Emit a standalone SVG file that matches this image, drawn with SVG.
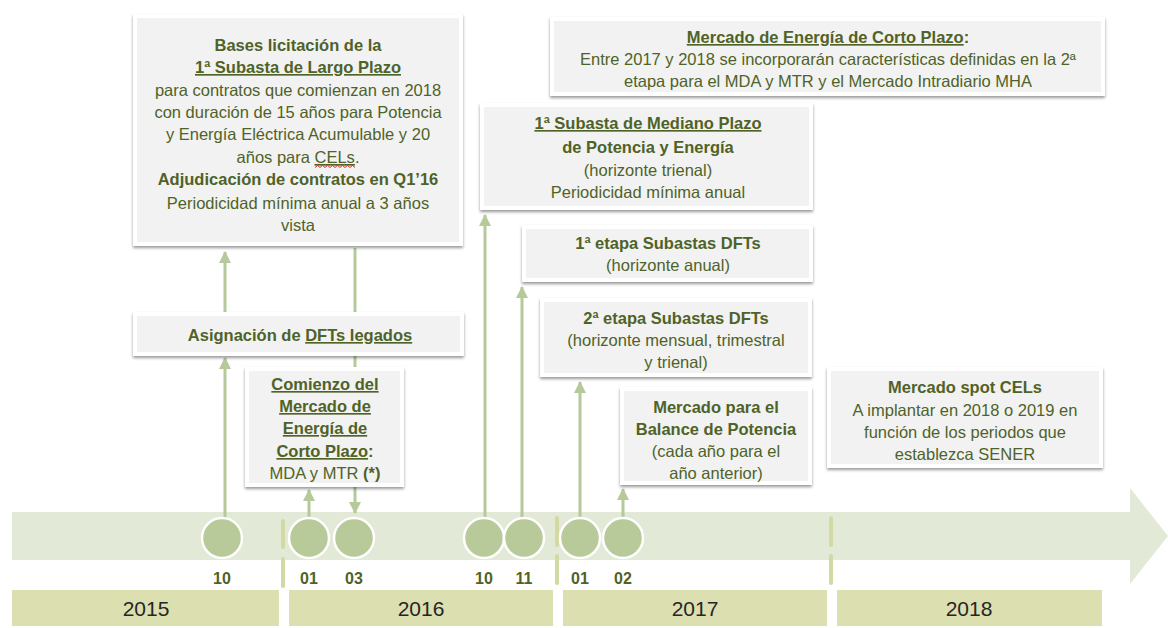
<svg xmlns="http://www.w3.org/2000/svg" width="1168" height="628" viewBox="0 0 1168 628">
<defs>
<filter id="sh" x="-5%" y="-10%" width="110%" height="130%">
<feDropShadow dx="0" dy="2" stdDeviation="1.4" flood-color="#000" flood-opacity="0.4"/>
</filter>
<marker id="ah" viewBox="0 0 12 12" refX="11" refY="6" markerWidth="12" markerHeight="12" markerUnits="userSpaceOnUse" orient="auto">
<path d="M0,0 L12,6 L0,12 Z" fill="#b5c99a"/>
</marker>
</defs>
<style>
.outer{fill:#ffffff;filter:url(#sh)}
.inner{fill:#f2f2f2}
text{font-family:"Liberation Sans",Arial,sans-serif;font-size:16.5px;fill:#4f6228;text-anchor:middle}
.b{font-weight:bold}
.u{text-decoration:underline}
.mo{font-weight:bold;font-size:16px}
.yr{font-size:21px;fill:#262626}
.con{stroke:#b5c99a;stroke-width:3;fill:none}
.sep{stroke:#d3d9a2;stroke-width:4;stroke-linecap:round}
.circ{fill:#b8c99a;stroke:#ffffff;stroke-width:2.5}
.year{fill:#dcdfb0}
</style>

<g id="timeline">
<path d="M12,512 H1130 V488 L1168,536 L1130,584 V560 H12 Z" fill="#e2e9d6"/>
<rect class="year" x="12" y="590" width="267" height="36"/>
<rect class="year" x="289" y="590" width="264" height="36"/>
<rect class="year" x="563" y="590" width="264" height="36"/>
<rect class="year" x="837" y="590" width="265" height="36"/>
<text class="yr" x="146" y="616">2015</text>
<text class="yr" x="421" y="616">2016</text>
<text class="yr" x="695" y="616">2017</text>
<text class="yr" x="969" y="616">2018</text>
<line class="sep" x1="283" y1="521" x2="283" y2="547"/>
<line class="sep" x1="283" y1="559" x2="283" y2="586"/>
<line class="sep" x1="557" y1="518" x2="557" y2="545"/>
<line class="sep" x1="557" y1="556" x2="557" y2="583"/>
<line class="sep" x1="831" y1="518" x2="831" y2="545"/>
<line class="sep" x1="831" y1="556" x2="831" y2="583"/>
</g>

<g id="connectors">
<line class="con" x1="225" y1="520" x2="225" y2="358" marker-end="url(#ah)"/>
<line class="con" x1="225" y1="312" x2="225" y2="252" marker-end="url(#ah)"/>
<line class="con" x1="355" y1="248" x2="355" y2="513" marker-end="url(#ah)"/>
<line class="con" x1="309" y1="520" x2="309" y2="490" marker-end="url(#ah)"/>
<line class="con" x1="485" y1="520" x2="485" y2="215" marker-end="url(#ah)"/>
<line class="con" x1="522" y1="520" x2="522" y2="287" marker-end="url(#ah)"/>
<line class="con" x1="580" y1="520" x2="580" y2="382" marker-end="url(#ah)"/>
<line class="con" x1="623" y1="520" x2="623" y2="489" marker-end="url(#ah)"/>
</g>

<g id="m10-2015"><circle class="circ" cx="222" cy="538" r="20"/><text class="mo" x="222" y="584">10</text></g>
<g id="m01-2016"><circle class="circ" cx="309" cy="538" r="20"/><text class="mo" x="309" y="584">01</text></g>
<g id="m03-2016"><circle class="circ" cx="354" cy="538" r="20"/><text class="mo" x="354" y="584">03</text></g>
<g id="m10-2016"><circle class="circ" cx="484" cy="538" r="20"/><text class="mo" x="484" y="584">10</text></g>
<g id="m11-2016"><circle class="circ" cx="524" cy="538" r="20"/><text class="mo" x="524" y="584">11</text></g>
<g id="m01-2017"><circle class="circ" cx="580" cy="538" r="20"/><text class="mo" x="580" y="584">01</text></g>
<g id="m02-2017"><circle class="circ" cx="623" cy="538" r="20"/><text class="mo" x="623" y="584">02</text></g>

<g id="bases-licitacion">
<rect class="outer" x="133" y="14" width="330" height="232"/>
<rect class="inner" x="137" y="18" width="322" height="224"/>
<text class="b" x="298" y="51">Bases licitación de la</text>
<text class="b u" x="298" y="73">1ª Subasta de Largo Plazo</text>
<text x="298" y="96">para contratos que comienzan en 2018</text>
<text x="298" y="118">con duración de 15 años para Potencia</text>
<text x="298" y="140">y Energía Eléctrica Acumulable y 20</text>
<text x="298" y="163">años para <tspan class="u">CELs</tspan>.</text>
<path d="M315,167.5 l2.5,-2 l2.5,2 l2.5,-2 l2.5,2 l2.5,-2 l2.5,2 l2.5,-2 l2.5,2 l2.5,-2 l2.5,2 l2.5,-2 l2.5,2 l2.5,-2 l2.5,2 l2.5,-2 l2.5,2" fill="none" stroke="#e03030" stroke-width="1"/>
<text class="b" x="298" y="185">Adjudicación de contratos en Q1’16</text>
<text x="298" y="209">Periodicidad mínima anual a 3 años</text>
<text x="298" y="231">vista</text>
</g>

<g id="asignacion">
<rect class="outer" x="133" y="312" width="331" height="44"/>
<rect class="inner" x="137" y="316" width="323" height="36"/>
<text class="b" x="300" y="341">Asignación de <tspan class="u">DFTs legados </tspan></text>
</g>

<g id="comienzo">
<rect class="outer" x="245" y="367" width="159" height="120"/>
<rect class="inner" x="249" y="371" width="151" height="112"/>
<text class="b u" x="325" y="390">Comienzo del</text>
<text class="b u" x="325" y="412">Mercado de</text>
<text class="b u" x="325" y="434">Energía de</text>
<text class="b" x="325" y="457"><tspan class="u">Corto Plazo</tspan>:</text>
<text x="325" y="479">MDA y MTR <tspan class="b">(*)</tspan></text>
</g>

<g id="mediano-plazo">
<rect class="outer" x="480" y="103" width="333" height="107"/>
<rect class="inner" x="484" y="107" width="325" height="99"/>
<text class="b u" x="648" y="129">1ª Subasta de Mediano Plazo</text>
<text class="b" x="648" y="153">de Potencia y Energía</text>
<text x="648" y="176">(horizonte trienal)</text>
<text x="648" y="198">Periodicidad mínima anual</text>
</g>

<g id="etapa1-dfts">
<rect class="outer" x="522" y="225" width="291" height="57"/>
<rect class="inner" x="526" y="229" width="283" height="49"/>
<text class="b" x="668" y="249">1ª etapa Subastas DFTs</text>
<text x="668" y="271">(horizonte anual)</text>
</g>

<g id="etapa2-dfts">
<rect class="outer" x="540" y="298" width="272" height="79"/>
<rect class="inner" x="544" y="302" width="264" height="71"/>
<text class="b" x="676" y="324">2ª etapa Subastas DFTs</text>
<text x="676" y="346">(horizonte mensual, trimestral</text>
<text x="676" y="368">y trienal)</text>
</g>

<g id="balance-potencia">
<rect class="outer" x="620" y="387" width="192" height="98"/>
<rect class="inner" x="624" y="391" width="184" height="90"/>
<text class="b" x="716" y="413">Mercado para el</text>
<text class="b" x="716" y="435">Balance de Potencia</text>
<text x="716" y="457">(cada año para el</text>
<text x="716" y="479">año anterior)</text>
</g>

<g id="corto-plazo-2">
<rect class="outer" x="550" y="17" width="555" height="79"/>
<rect class="inner" x="554" y="21" width="547" height="71"/>
<text class="b" x="828" y="43"><tspan class="u">Mercado de Energía de Corto Plazo</tspan>:</text>
<text x="828" y="65">Entre 2017 y 2018 se incorporarán características definidas en la 2ª</text>
<text x="828" y="87">etapa para el MDA y MTR y el Mercado Intradiario MHA</text>
</g>

<g id="spot-cels">
<rect class="outer" x="827" y="367" width="276" height="101"/>
<rect class="inner" x="831" y="371" width="268" height="93"/>
<text class="b" x="965" y="393">Mercado spot CELs</text>
<text x="965" y="416">A implantar en 2018 o 2019 en</text>
<text x="965" y="438">función de los periodos que</text>
<text x="965" y="460">establezca SENER</text>
</g>
</svg>
